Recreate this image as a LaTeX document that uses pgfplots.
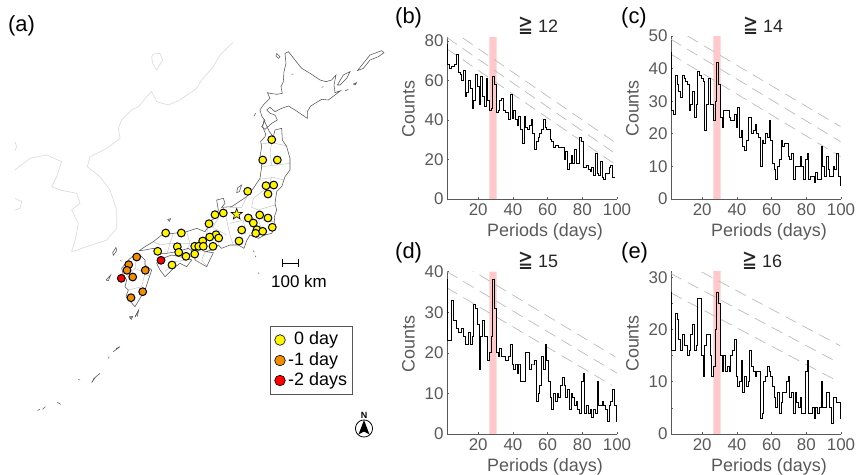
\documentclass[border=0pt]{standalone}
\usepackage{pgfplots}
\usepackage{fontspec}
\setmainfont{Liberation Sans}
\newfontfamily\djv{DejaVu Sans}
\pgfplotsset{compat=1.18}
\definecolor{axc}{HTML}{595959}
\definecolor{txc}{HTML}{595959}
\definecolor{band}{HTML}{FFC9CC}
\definecolor{dsh}{HTML}{B8B8B8}
\definecolor{fg}{HTML}{DDDDDD}
\definecolor{pref}{HTML}{C0C0C0}
\definecolor{cst}{HTML}{555555}
\definecolor{org}{HTML}{F28C00}
\definecolor{ylw}{HTML}{FFF500}
\newcommand{\tk}{\fontsize{17}{18}\selectfont}
\newcommand{\lb}{\fontsize{18}{20}\selectfont}
\newcommand{\pl}{\fontsize{22}{24}\selectfont}
\newcommand{\geqq}{{\djv\scalebox{1}[1.35]{≧}}}
\pgfplotsset{
 z5/.style={x filter/.expression={90+x/3},y filter/.expression={120+y/3}},
 z6/.style={x filter/.expression={220+x/3},y filter/.expression={30+y/3}},
 z7/.style={x filter/.expression={x/3},y filter/.expression={40+y/3}},
 z8/.style={x filter/.expression={20+x/3},y filter/.expression={300+y/3}},
 coast/.style={cst,line width=0.55pt,no marks},
 fgn/.style={fg,line width=0.7pt,no marks},
 prf/.style={pref,line width=0.45pt,no marks},
 site/.style={only marks,mark=*,mark size=3.9bp,mark options={draw=black,line width=1pt,fill=#1}},
 panel/.style={
  scale only axis,width=170bp,xmin=2,xmax=100,ymin=0,
  axis lines=left,axis line style={-,axc,line width=0.8pt},
  xtick={20,40,60,80,100},
  tick align=inside,major tick length=2bp,minor tick length=1.5bp,
  tick style={axc,line width=0.6pt},
  tick label style={font=\tk,text=txc},
  xticklabel style={yshift=-1.5bp},
  /pgf/number format/assume math mode=true,
  xlabel={Periods (days)},ylabel={Counts},
  label style={font=\lb,text=txc},
  xlabel style={yshift=-0.5bp,xshift=13bp},
  ylabel style={xshift=9bp,yshift=3bp},
  clip=true,
 },
 bd/.style={draw=none,fill=band,forget plot},
 dl/.style={dsh,line width=0.65pt,dash pattern=on 12bp off 7bp,no marks},
 st/.style={black,line width=1pt,const plot mark mid,no marks},
}
\begin{document}
\begin{tikzpicture}
\useasboundingbox (0,0) rectangle (861bp,475bp);
\begin{axis}[at={(0,0)},anchor=south west,scale only axis,width=861bp,height=475bp,
 xmin=0,xmax=861,ymin=0,ymax=475,y dir=reverse,hide axis,clip=false]
% foreign coasts
\addplot[fgn,z7] coordinates {(698,8)(660,45)(640,80)(605,120)(590,145)(540,180)(505,195)(470,185)(455,155)(440,170)(415,200)(395,210)(365,240)(355,265)(360,295)(320,325)(270,350)(262,380)(300,410)(330,450)(350,510)(350,565)(320,600)(260,620)(215,635)(228,590)(235,550)(215,510)(240,490)(230,460)(180,450)(155,440)(170,410)(185,365)(140,345)(90,355)(45,390)};
\addplot[fgn,z7] coordinates {(460,42)(480,40)(488,60)(470,90)(458,70)(455,50)(460,42)};
\addplot[fgn,z7] coordinates {(45,305)(50,320)(45,332)};
\addplot[fgn,z7] coordinates {(45,475)(65,485)(60,505)(45,510)};
% prefecture borders
\addplot[prf,z5] coordinates {(512,72)(545,68)(595,78)};
\addplot[prf,z5] coordinates {(515,140)(560,135)(600,130)};
\addplot[prf,z5] coordinates {(545,68)(540,100)(545,135)};
\addplot[prf,z5] coordinates {(510,178)(550,172)(582,180)};
\addplot[prf,z5] coordinates {(545,172)(535,200)(490,235)(485,262)(505,270)(555,255)};
\addplot[prf,z5] coordinates {(470,232)(455,262)(420,262)};
\addplot[prf,z5] coordinates {(505,270)(520,300)(552,305)};
\addplot[prf,z5] coordinates {(465,300)(505,300)(520,340)};
\addplot[prf,z5] coordinates {(400,262)(410,300)(420,345)(430,375)};
\addplot[prf,z5] coordinates {(420,310)(460,300)(468,345)};
\addplot[prf,z5] coordinates {(385,295)(368,322)(410,345)};
\addplot[prf,z5] coordinates {(355,320)(345,360)(330,395)};
\addplot[prf,z5] coordinates {(290,335)(300,370)(290,392)};
\addplot[prf,z5] coordinates {(250,340)(240,370)(232,398)};
\addplot[prf,z5] coordinates {(190,365)(210,375)(240,370)(300,370)};
\addplot[prf,z5] coordinates {(345,395)(335,420)(350,438)};
\addplot[prf,z5] coordinates {(225,455)(255,425)(290,420)};
\addplot[prf,z5] coordinates {(135,445)(165,460)(155,500)(115,510)};
\addplot[prf,z5] coordinates {(140,408)(135,445)(110,470)};
\addplot[prf,z5] coordinates {(165,460)(180,470)};
% coast
\addplot[coast,z6] coordinates {(205,65)(195,70)(198,100)(192,125)(190,155)(183,170)(187,190)(170,193)(150,190)(142,188)(150,205)(130,225)(120,240)(125,258)(135,272)(125,290)(135,298)(155,280)(172,270)(165,255)(150,250)(140,240)(150,232)(165,245)(185,235)(205,228)(225,240)(262,265)(262,245)(272,228)(305,208)(325,210)(345,195)(362,182)(345,188)(342,165)(348,135)(335,150)(318,155)(300,150)(270,130)(245,115)(225,90)(205,65)};
\addplot[coast,z6] coordinates {(352,165)(370,135)(390,125)(380,145)(360,165)(352,165)};
\addplot[coast,z6] coordinates {(412,122)(430,100)(450,75)(485,62)(492,68)(475,80)(450,90)(430,115)(412,122)};
\addplot[coast,z6] coordinates {(400,162)(410,158)(405,165)(400,162)};
\addplot[coast,z6] coordinates {(375,183)(385,178)};
\addplot[coast,z6] coordinates {(170,70)(180,80)(175,85)(168,78)(170,70)};
\addplot[coast,z6] coordinates {(102,258)(107,250)};
\addplot[coast,z6] coordinates {(215,133)(220,132)};
\addplot[coast,z6] coordinates {(305,172)(310,170)};
\addplot[coast,z5] coordinates {(527,42)(518,20)(522,0)(538,35)(550,50)(555,30)(575,25)(577,60)(590,80)(600,115)(600,150)(585,170)(575,200)(560,215)(555,250)(560,270)(553,290)(555,322)(545,340)(525,345)(505,355)(495,350)(480,345)(470,362)(462,385)(445,375)(420,375)(395,385)(385,375)(365,390)(345,395)(370,398)(350,440)(315,420)(315,400)(295,385)(260,395)(230,400)(205,400)(190,385)(165,390)(148,392)(165,380)(190,365)(215,345)(250,340)(290,335)(320,325)(345,335)(355,320)(345,310)(375,295)(385,270)(380,240)(400,235)(405,250)(395,262)(425,260)(470,230)(490,205)(510,175)(515,140)(510,110)(515,80)(512,65)(525,50)(527,42)};
\addplot[coast,z5] coordinates {(135,403)(115,420)(95,445)(100,465)(110,480)(105,500)(115,510)(108,530)(135,560)(150,535)(165,510)(175,480)(185,450)(165,435)(165,420)(150,405)(135,403)};
\addplot[coast,z5] coordinates {(205,420)(245,405)(290,415)(305,420)(290,440)(270,430)(250,445)(225,470)(210,450)(200,430)(205,420)};
\addplot[coast,z5] coordinates {(443,203)(455,195)(448,215)(440,218)(443,203)};
\addplot[coast,z5] coordinates {(233,298)(242,296)(238,304)(233,298)};
\addplot[coast,z5] coordinates {(78,382)(80,392)(70,406)(68,398)(78,382)};
\addplot[coast,z5] coordinates {(48,480)(62,465)(55,482)(48,480)};
\addplot[coast,z5] coordinates {(135,592)(146,570)(142,590)};
\addplot[coast,z5] coordinates {(118,590)(128,590)(124,598)(118,590)};
\addplot[coast,z5] coordinates {(92,420)(94,424)};
\addplot[coast,z5] coordinates {(490,392)(493,397)};
\addplot[coast,z5] coordinates {(495,407)(498,411)};
\addplot[coast,z5] coordinates {(505,458)(507,461)};
\addplot[coast,z8] coordinates {(280,155)(300,140)(288,146)};
\addplot[coast,z8] coordinates {(215,248)(222,235)(240,220)(226,232)(215,248)};
\addplot[coast,z8] coordinates {(265,175)(268,170)};
\addplot[coast,z8] coordinates {(112,307)(122,313)};
\addplot[coast,z8] coordinates {(52,331)(60,328)};
\addplot[coast,z8] coordinates {(68,328)(76,320)};
\addplot[coast,z8] coordinates {(330,55)(338,48)};
\addplot[coast,z8] coordinates {(345,50)(355,33)};
\addplot[coast,z8] coordinates {(175,238)(180,240)};
% sites
\addplot[site=ylw] coordinates {(271.7,139.7)(262.7,160)(277.3,160)(266,185.7)(273.7,185)(268,194)(247.7,191.3)(223.3,213)(215,214.7)(209,223.7)(248.3,218)(259.7,215)(268,218)(253.3,223)(272.3,227.3)(241.7,230)(257,229.7)(255.7,233.3)(262.7,231.3)(239,241)(216,234.7)(218.7,238)(209.7,237)(202.7,241)(213,246.3)(194.7,246.3)(198.7,246.3)(203.3,246.3)(194.7,254)(186,256.3)(177.3,246.7)(178.7,252.3)(165.7,233)(181.3,233)(157.7,251.3)(172,265)};
\addplot[site=org] coordinates {(136.7,257)(128.7,264.7)(127,270.3)(145.3,270.3)(132.7,277)(142.7,291.7)(131,297.7)};
\addplot[site=red] coordinates {(161,260.3)(121.3,278.3)};
% star site
\addplot[draw=black,line width=0.6pt,fill=ylw,no marks] coordinates {(236.7,208.5)(238.1,212.4)(242.2,212.5)(239,215)(240.1,219)(236.7,216.7)(233.3,219)(234.4,215)(231.2,212.5)(235.3,212.4)} --cycle;
% scale bar
\addplot[black,line width=0.9pt,no marks] coordinates {(282.5,263)(298.5,263)};
\addplot[black,line width=0.9pt,no marks] coordinates {(282.5,259)(282.5,267)};
\addplot[black,line width=0.9pt,no marks] coordinates {(298.5,259)(298.5,267)};
\node[font=\tk,text=black] at (axis cs:299,281) {100 km};
% legend box
\addplot[draw=cst,line width=1pt,fill=white,no marks] coordinates {(270,326.7)(352.7,326.7)(352.7,394)(270,394)} --cycle;
\addplot[only marks,mark=*,mark size=5.3bp,mark options={draw=black,line width=0.6pt,fill=ylw}] coordinates {(280,340)};
\addplot[only marks,mark=*,mark size=5.3bp,mark options={draw=black,line width=0.6pt,fill=org}] coordinates {(280,360.5)};
\addplot[only marks,mark=*,mark size=5.3bp,mark options={draw=black,line width=0.6pt,fill=red}] coordinates {(280,380.5)};
\node[font=\lb,text=black,anchor=west,inner sep=0pt] at (axis cs:294,340) {0 day};
\node[font=\lb,text=black,anchor=west,inner sep=0pt] at (axis cs:288,360.5) {-1 day};
\node[font=\lb,text=black,anchor=west,inner sep=0pt] at (axis cs:288,380.5) {-2 days};
% compass
\addplot[draw=black,line width=0.8pt,fill=white,no marks] coordinates {(372.5,428.5)(372.2,430.7)(371.4,432.75)(370,434.5)(368.25,435.9)(366.2,436.7)(364,437)(361.8,436.7)(359.75,435.9)(358,434.5)(356.6,432.75)(355.8,430.7)(355.5,428.5)(355.8,426.3)(356.6,424.25)(358,422.5)(359.75,421.1)(361.8,420.3)(364,420)(366.2,420.3)(368.25,421.1)(370,422.5)(371.4,424.25)(372.2,426.3)} --cycle;
\addplot[fill=black,draw=none,no marks] coordinates {(364,420)(358.5,434.5)(364,431.5)(369.5,434.5)} --cycle;
\node[font=\fontsize{9}{9}\selectfont\bfseries,inner sep=0pt] at (axis cs:364,415) {N};
% panel letters
\node[font=\pl,anchor=west,inner sep=0pt] at (axis cs:8,26) {(a)};
\node[font=\pl,anchor=west,inner sep=0pt] at (axis cs:395,18) {(b)};
\node[font=\pl,anchor=west,inner sep=0pt] at (axis cs:621,18) {(c)};
\node[font=\pl,anchor=west,inner sep=0pt] at (axis cs:395,253) {(d)};
\node[font=\pl,anchor=west,inner sep=0pt] at (axis cs:621,253) {(e)};
\node[font=\lb,text=black!85] at (axis cs:538,26) {\geqq\ 12};
\node[font=\lb,text=black!85] at (axis cs:763,26) {\geqq\ 14};
\node[font=\lb,text=black!85] at (axis cs:538,261) {\geqq\ 15};
\node[font=\lb,text=black!85] at (axis cs:762,261) {\geqq\ 16};
\end{axis}
% (b)
\begin{axis}[panel,at={(447bp,276bp)},anchor=south west,height=162bp,ymax=82,ytick={0,20,40,60,80}]
\addplot[bd] coordinates {(26.4,0)(30.6,0)(30.6,82)(26.4,82)} \closedcycle;
\addplot[dl] coordinates {(2,87)(99,28.6)};
\addplot[dl] coordinates {(2,81.7)(99,23)};
\addplot[dl] coordinates {(2,76)(99,17.5)};
\addplot[st] coordinates {(2,78)(3,68)(4,66)(5,67)(6,67)(7,68)(8,73)(9,64)(10,63)(11,60)(12,65)(13,52)(14,54)(15,60)(16,56)(17,46)(18,50)(19,63)(20,57)(21,48)(22,62)(23,52)(24,47)(25,61)(26,50)(27,45)(28,46)(29,62)(30,58)(31,44)(32,45)(33,50)(34,51)(35,45)(36,44)(37,44)(38,40)(39,53)(40,41)(41,45)(42,40)(43,37)(44,42)(45,35)(46,28)(47,42)(48,36)(49,35)(50,37)(51,40)(52,33)(53,25)(54,29)(55,31)(56,33)(57,35)(58,40)(59,36)(60,35)(61,35)(62,30)(63,29)(64,26)(65,27)(66,27)(67,26)(68,26)(69,26)(70,20)(71,24)(72,15)(73,18)(74,22)(75,18)(76,25)(77,18)(78,18)(79,31)(80,29)(81,16)(82,16)(83,17)(84,15)(85,14)(86,16)(87,12)(88,23)(89,13)(90,12)(91,19)(92,11)(93,10)(94,13)(95,13)(96,16)(97,17)(98,11)(99,11)};
\end{axis}
% (c)
\begin{axis}[panel,at={(671bp,276bp)},anchor=south west,height=163bp,ymax=50,ytick={0,10,20,30,40,50}]
\addplot[bd] coordinates {(26.4,0)(30.6,0)(30.6,50)(26.4,50)} \closedcycle;
\addplot[dl] coordinates {(2,53)(99.7,22.2)};
\addplot[dl] coordinates {(2,49)(99.7,17.6)};
\addplot[dl] coordinates {(2,44.4)(99.7,13)};
\addplot[st] coordinates {(2,45)(3,27)(4,26)(5,38)(6,35)(7,33)(8,31)(9,38)(10,37)(11,36)(12,35)(13,27)(14,29)(15,33)(16,25)(17,29)(18,39)(19,38)(20,37)(21,36)(22,21)(23,29)(24,37)(25,29)(26,29)(27,24)(28,30)(29,42)(30,35)(31,25)(32,22)(33,27)(34,27)(35,27)(36,25)(37,24)(38,24)(39,26)(40,22)(41,28)(42,19)(43,21)(44,16)(45,15)(46,18)(47,25)(48,25)(49,20)(50,21)(51,23)(52,20)(53,19)(54,10)(55,18)(56,17)(57,20)(58,19)(59,24)(60,18)(61,11)(62,9)(63,6)(64,10)(65,12)(66,18)(67,16)(68,17)(69,17)(70,13)(71,12)(72,14)(73,6)(74,10)(75,10)(76,10)(77,13)(78,10)(79,6)(80,12)(81,14)(82,6)(83,7)(84,7)(85,5)(86,8)(87,6)(88,6)(89,16)(90,10)(91,7)(92,13)(93,9)(94,7)(95,7)(96,10)(97,9)(98,14)(99,7)(100,4)};
\end{axis}
% (d)
\begin{axis}[panel,at={(447bp,41bp)},anchor=south west,height=162.4bp,ymax=40,ytick={0,10,20,30,40}]
\addplot[bd] coordinates {(26.4,0)(30.6,0)(30.6,40)(26.4,40)} \closedcycle;
\addplot[dl] coordinates {(2,44)(99,19)};
\addplot[dl] coordinates {(2,40)(100,15)};
\addplot[dl] coordinates {(2,36)(97,12)};
\addplot[st] coordinates {(2,38)(3,23)(4,23)(5,33)(6,28)(7,28)(8,26)(9,25)(10,25)(11,26)(12,24)(13,22)(14,22)(15,25)(16,22)(17,24)(18,32)(19,31)(20,27)(21,16)(22,24)(23,28)(24,24)(25,24)(26,18)(27,20)(28,24)(29,38)(30,31)(31,20)(32,19)(33,21)(34,19)(35,19)(36,18)(37,18)(38,19)(39,22)(40,17)(41,16)(42,17)(43,15)(44,17)(45,13)(46,13)(47,13)(48,20)(49,20)(50,16)(51,17)(52,17)(53,18)(54,8)(55,10)(56,12)(57,19)(58,16)(59,22)(60,18)(61,13)(62,9)(63,6)(64,10)(65,8)(66,10)(67,9)(68,12)(69,14)(70,12)(71,9)(72,11)(73,6)(74,10)(75,9)(76,7)(77,8)(78,6)(79,5)(80,13)(81,15)(82,5)(83,7)(84,5)(85,6)(86,4)(87,6)(88,5)(89,13)(90,7)(91,7)(92,8)(93,7)(94,6)(95,3)(96,7)(97,8)(98,11)(99,7)(100,3)};
\end{axis}
% (e)
\begin{axis}[panel,at={(671bp,41bp)},anchor=south west,height=163bp,ymax=31.2,ytick={0,10,20,30},minor ytick={5,15,25}]
\addplot[bd] coordinates {(26.4,0)(30.6,0)(30.6,31.2)(26.4,31.2)} \closedcycle;
\addplot[dl] coordinates {(19.7,31)(99.5,16.9)};
\addplot[dl] coordinates {(2,30.7)(97.6,13.8)};
\addplot[dl] coordinates {(2,27)(97.6,10.2)};
\addplot[st] coordinates {(2,27)(3,16)(4,16)(5,23)(6,22)(7,18)(8,16)(9,19)(10,17)(11,17)(12,15)(13,16)(14,19)(15,21)(16,16)(17,17)(18,26)(19,26)(20,15)(21,11)(22,17)(23,19)(24,19)(25,15)(26,11)(27,13)(28,20)(29,27)(30,25)(31,15)(32,12)(33,15)(34,12)(35,13)(36,12)(37,15)(38,16)(39,18)(40,11)(41,9)(42,10)(43,14)(44,8)(45,11)(46,9)(47,10)(48,16)(49,13)(50,12)(51,11)(52,12)(53,12)(54,3)(55,4)(56,10)(57,11)(58,13)(59,12)(60,11)(61,9)(62,7)(63,5)(64,8)(65,4)(66,6)(67,8)(68,8)(69,10)(70,11)(71,7)(72,8)(73,4)(74,8)(75,6)(76,5)(77,7)(78,4)(79,4)(80,12)(81,14)(82,4)(83,4)(84,5)(85,3)(86,5)(87,4)(88,5)(89,10)(90,5)(91,5)(92,8)(93,8)(94,5)(95,2)(96,7)(97,7)(98,6)(99,6)(100,3)};
\end{axis}
\end{tikzpicture}
\end{document}
